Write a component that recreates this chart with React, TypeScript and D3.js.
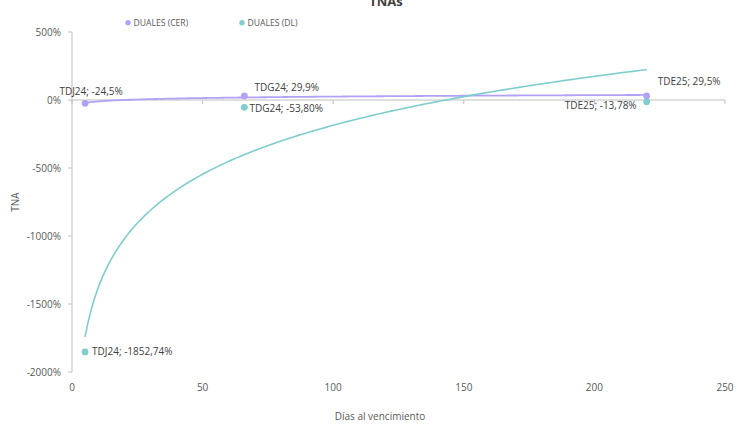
import React from "react";
import * as d3 from "d3";

const tickX = [0, 50, 100, 150, 200, 250];
const tickY = [500, 0, -500, -1000, -1500, -2000];
const tickYLabels = ["500%", "0%", "-500%", "-1000%", "-1500%", "-2000%"];

const cerNames = ["TDJ24", "TDG24", "TDE25"];
const cerDays = [5, 66, 220];
const cerTna = [-24.5, 29.9, 29.5];
const cerLabels = ["TDJ24; -24,5%", "TDG24; 29,9%", "TDE25; 29,5%"];

const dlNames = ["TDJ24", "TDG24", "TDE25"];
const dlDays = [5, 66, 220];
const dlTna = [-1852.74, -53.8, -13.78];
const dlLabels = ["TDJ24; -1852,74%", "TDG24; -53,80%", "TDE25; -13,78%"];

const CER_COLOR = "#b3a1f7";
const DL_COLOR = "#7fcdcd";
const FONT = "'Open Sans', 'Noto Sans', sans-serif";
const FS = 10;

function logFit(xs: number[], ys: number[]) {
  const lx = xs.map((v) => Math.log(v));
  const mx = d3.mean(lx)!;
  const my = d3.mean(ys)!;
  let sxy = 0, sxx = 0;
  lx.forEach((v, i) => {
    sxy += (v - mx) * (ys[i] - my);
    sxx += (v - mx) * (v - mx);
  });
  const b = sxy / sxx;
  const a = my - b * mx;
  return (x: number) => a + b * Math.log(x);
}

export default function App() {
  const W = 753, H = 429;
  const x = d3.scaleLinear().domain([0, 250]).range([72, 725]);
  const y = d3.scaleLinear().domain([-2000, 500]).range([372, 32]);

  const mkTrend = (days: number[], vals: number[]) => {
    const f = logFit(days, vals);
    const lo = d3.min(days)!, hi = d3.max(days)!;
    const pts = d3.range(0, 201).map((i) => {
      const d = lo + ((hi - lo) * i) / 200;
      return [d, f(d)] as [number, number];
    });
    return d3.line<[number, number]>().x((p) => x(p[0])).y((p) => y(p[1]))(pts) || "";
  };

  const cerPath = mkTrend(cerDays, cerTna);
  const dlPath = mkTrend(dlDays, dlTna);

  const cerOff: [number, number, string][] = [[6, -8, "middle"], [10, -5, "start"], [11, -11, "start"]];
  const dlOff: [number, number, string][] = [[7, 3.5, "start"], [5, 4.5, "start"], [-10, 7.5, "end"]];

  return (
    <svg width={W} height={H} style={{ position: "absolute", left: 0, top: 0, fontFamily: FONT }}>
      <rect width={W} height={H} fill="#fff" />
      <text x={386} y={6} textAnchor="middle" fontSize={13} fontWeight="bold" fill="#404040">TNAs</text>

      {/* legend */}
      <circle cx={128} cy={22.7} r={2.7} fill={CER_COLOR} />
      <text x={133.5} y={25.8} fontSize={8.6} fill="#595959">DUALES (CER)</text>
      <circle cx={242} cy={22.7} r={2.7} fill={DL_COLOR} />
      <text x={247.5} y={25.8} fontSize={8.6} fill="#595959">DUALES (DL)</text>

      {/* y axis */}
      <line x1={x(0)} x2={x(0)} y1={y(500)} y2={y(-2000)} stroke="#bfbfbf" strokeWidth={1} />
      {tickY.map((t, i) => (
        <g key={t}>
          <line x1={x(0) - 4} x2={x(0)} y1={y(t)} y2={y(t)} stroke="#bfbfbf" />
          <text x={61} y={y(t) + 3.5} textAnchor="end" fontSize={FS} fill="#595959">{tickYLabels[i]}</text>
        </g>
      ))}

      {/* x axis at 0 */}
      <line x1={x(0)} x2={x(250)} y1={y(0)} y2={y(0)} stroke="#bfbfbf" strokeWidth={1} />
      {tickX.map((t) => (
        <g key={t}>
          <line x1={x(t)} x2={x(t)} y1={y(0)} y2={y(0)} stroke="#bfbfbf" />
          <line x1={x(t)} x2={x(t)} y1={y(0)} y2={y(0) + 4} stroke="#bfbfbf" />
          <text x={x(t)} y={390.5} textAnchor="middle" fontSize={FS} fill="#595959">{t}</text>
        </g>
      ))}

      <text x={380} y={419.5} textAnchor="middle" fontSize={FS} fill="#595959">Días al vencimiento</text>
      <text transform={`translate(18.5,${202}) rotate(-90)`} textAnchor="middle" fontSize={FS} fill="#595959">TNA</text>

      {/* trendlines */}
      <path d={cerPath} fill="none" stroke={CER_COLOR} strokeWidth={1.8} />
      <path d={dlPath} fill="none" stroke={DL_COLOR} strokeWidth={1.6} />

      {/* points */}
      {cerDays.map((d, i) => (
        <circle key={"c" + cerNames[i]} cx={x(d)} cy={y(cerTna[i])} r={3.4} fill={CER_COLOR} />
      ))}
      {dlDays.map((d, i) => (
        <circle key={"d" + dlNames[i]} cx={x(d)} cy={y(dlTna[i])} r={3.4} fill={DL_COLOR} />
      ))}

      {/* labels */}
      {cerDays.map((d, i) => (
        <text key={"cl" + i} x={x(d) + cerOff[i][0]} y={y(cerTna[i]) + cerOff[i][1]} textAnchor={cerOff[i][2] as any}
          fontSize={FS} fill="#404040">{cerLabels[i]}</text>
      ))}
      {dlDays.map((d, i) => (
        <text key={"dl" + i} x={x(d) + dlOff[i][0]} y={y(dlTna[i]) + dlOff[i][1]} textAnchor={dlOff[i][2] as any}
          fontSize={FS} fill="#404040">{dlLabels[i]}</text>
      ))}
    </svg>
  );
}
